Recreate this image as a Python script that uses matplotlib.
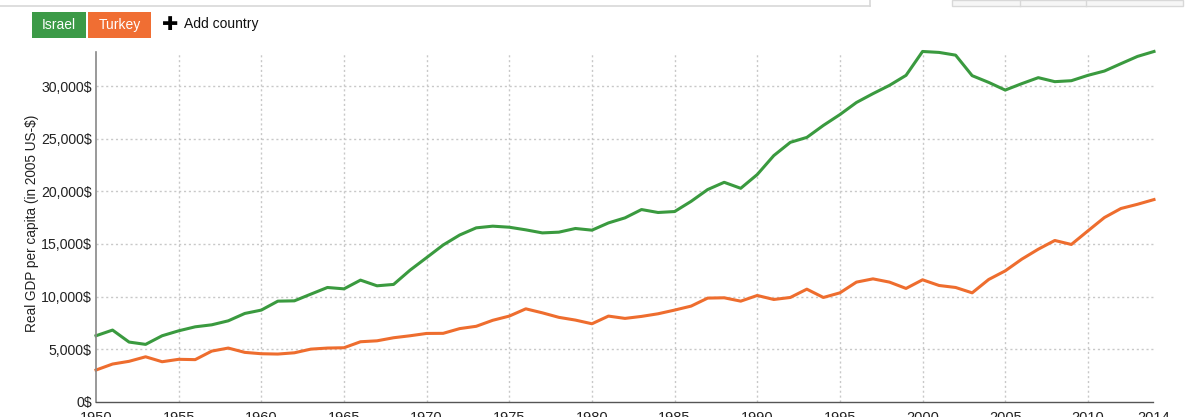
import numpy as np
import matplotlib
matplotlib.use("Agg")
import matplotlib.pyplot as plt
from matplotlib.patches import Rectangle
from matplotlib.ticker import FuncFormatter

plt.rcParams["font.family"] = ["Liberation Sans", "DejaVu Sans"]

# Data
years = np.arange(1950, 2015)
israel = [6270, 6810, 5670, 5450, 6270, 6740, 7120, 7310, 7690, 8390,
          8710, 9560, 9590, 10230, 10860, 10730, 11560, 11020, 11150, 12510,
          13700, 14900, 15850, 16530, 16690, 16590, 16340, 16050, 16120, 16470,
          16310, 17000, 17480, 18270, 17990, 18080, 19050, 20170, 20860, 20290,
          21600, 23400, 24660, 25130, 26270, 27300, 28450, 29290, 30080, 31030,
          33300, 33210, 32950, 31000, 30360, 29630, 30240, 30810, 30430, 30520,
          31030, 31440, 32140, 32830, 33300]
turkey = [3010, 3580, 3840, 4270, 3800, 4030, 4000, 4810, 5100, 4690,
          4560, 4530, 4650, 5000, 5100, 5130, 5700, 5790, 6080, 6270,
          6490, 6500, 6950, 7170, 7740, 8140, 8830, 8450, 8020, 7760,
          7410, 8140, 7920, 8110, 8360, 8710, 9090, 9850, 9880, 9560,
          10100, 9720, 9910, 10700, 9910, 10350, 11370, 11680, 11370, 10770,
          11590, 11050, 10860, 10350, 11620, 12440, 13550, 14500, 15330, 14950,
          16240, 17510, 18370, 18770, 19220]
xticks = [1950, 1955, 1960, 1965, 1970, 1975, 1980, 1985, 1990, 1995, 2000, 2005, 2010, 2014]
yticks = [0, 5000, 10000, 15000, 20000, 25000, 30000]

green = "#3a9a3f"
orange = "#ee6d2e"

W, H = 1200, 417
fig = plt.figure(figsize=(W / 100, H / 100), dpi=100)


def fx(px):
    return px / W


def fy(py):
    return 1 - py / H


# page chrome above the chart
fig.add_artist(plt.Line2D([0, fx(870)], [fy(6), fy(6)], color="#d8d8d8", lw=1.2))
fig.add_artist(plt.Line2D([fx(870), fx(870)], [fy(0), fy(6)], color="#d8d8d8", lw=1.2))
fig.add_artist(Rectangle((fx(952), fy(6)), fx(1183) - fx(952), fy(0) - fy(6),
                         facecolor="#f6f6f6", edgecolor="#d8d8d8", lw=1))
for xd in [1020, 1086]:
    fig.add_artist(plt.Line2D([fx(xd), fx(xd)], [fy(0), fy(6)], color="#d8d8d8", lw=1))

# country buttons
fig.add_artist(Rectangle((fx(32), fy(38)), fx(86) - fx(32), fy(12) - fy(38),
                         facecolor="#3c9a47", edgecolor="none"))
fig.add_artist(Rectangle((fx(88), fy(38)), fx(151) - fx(88), fy(12) - fy(38),
                         facecolor="#f06e33", edgecolor="none"))
fig.text(fx(59), fy(25), "Israel", color="white", fontsize=10, ha="center", va="center")
fig.text(fx(119.5), fy(25), "Turkey", color="white", fontsize=10, ha="center", va="center")
fig.text(fx(170.5), fy(25), "\u271a", color="black", fontsize=14, ha="center", va="center",
         family="DejaVu Sans")
fig.text(fx(184), fy(24), "Add country", color="#111111", fontsize=10, ha="left", va="center")

# main axes
ax = fig.add_axes([fx(96), fy(401.7), fx(1154) - fx(96), fy(52) - fy(401.7)])
ax.plot(years, israel, color=green, lw=2.2, solid_joinstyle="round", clip_on=False)
ax.plot(years, turkey, color=orange, lw=2.2, solid_joinstyle="round", clip_on=False)

ax.set_xlim(1950, 2014)
ax.set_ylim(0, 33250)
ax.set_xticks(xticks)
ax.set_yticks(yticks)
ax.yaxis.set_major_formatter(FuncFormatter(lambda v, p: f"{int(v):,}$"))
ax.tick_params(axis="both", length=0, colors="#222222")
# x labels sit low and run off the bottom edge, as in the original page
ax.tick_params(axis="x", pad=6.5, labelsize=10.5)
ax.tick_params(axis="y", pad=3, labelsize=10.2)

for x in xticks[1:-1]:
    ax.axvline(x, color="#c8c8c8", lw=1, ls=(0, (1.5, 2)), zorder=0)
for y in yticks[1:]:
    ax.axhline(y, color="#c8c8c8", lw=1, ls=(0, (1.5, 2)), zorder=0)

for s in ["top", "right"]:
    ax.spines[s].set_visible(False)
ax.spines["left"].set_color("#888888")
ax.spines["left"].set_linewidth(1.2)
ax.spines["bottom"].set_color("#555555")
ax.spines["bottom"].set_linewidth(1)
ax.spines["bottom"].set_linestyle((0, (2, 1)))

ax.set_ylabel("Real GDP per capita (in 2005 US-$)", fontsize=9.8, color="#222222")
ax.yaxis.set_label_coords(-0.054, 0.51)

fig.savefig("out.png", dpi=100)
